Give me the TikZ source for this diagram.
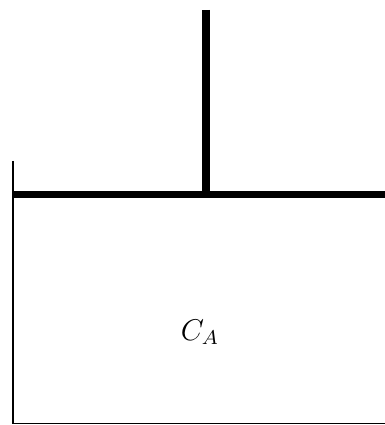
\documentclass[tikz,border=0pt]{standalone}
\usepackage{tikz}
\usetikzlibrary{positioning}
\tikzset{
    wall/.style={draw, line width=0.5pt},
    membrane/.style={draw, line width=3pt},
    lbl/.style={font=\large, inner sep=1pt}
}

\begin{document}
\begin{tikzpicture}[x=0.4pt, y=-0.4pt]
    \useasboundingbox (0,0) rectangle (385,425);
    \coordinate (TL) at (13, 161);
    \coordinate (BL) at (13, 423.5);
    \coordinate (BR) at (385, 423.5);
    \coordinate (ML) at (12, 194.5);
    \coordinate (MR) at (385, 194.5);
    \coordinate (PT) at (206, 10);
    \coordinate (PB) at (206, 198);

    \draw[wall] (TL) -- (BL) -- (BR);
    \draw[membrane] (ML) -- (MR);
    \draw[membrane] (PT) -- (PB);

    \node[lbl] (CA) at (200, 332) {$C_A$};
\end{tikzpicture}
\end{document}
